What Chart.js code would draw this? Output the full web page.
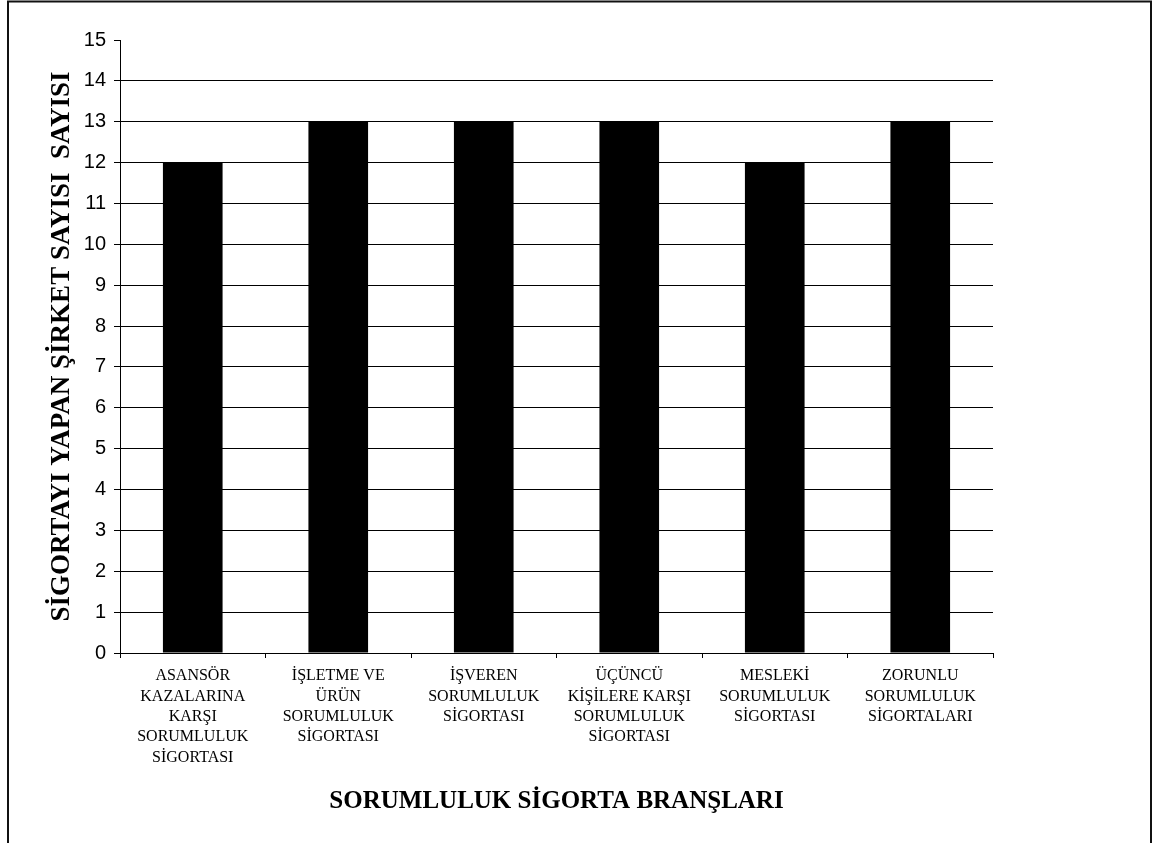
<!DOCTYPE html>
<html>
<head>
<meta charset="utf-8">
<script src="https://cdn.jsdelivr.net/npm/chart.js@4/dist/chart.umd.min.js"></script>
<style>
  html, body { margin: 0; padding: 0; background: #fff; }
  #wrap { width: 1155px; height: 843px; }
</style>
</head>
<body>
<div id="wrap"><canvas id="chart" width="1155" height="843"></canvas></div>
<script>
const categories = [
  ["ASANSÖR", "KAZALARINA", "KARŞI", "SORUMLULUK", "SİGORTASI"],
  ["İŞLETME VE", "ÜRÜN", "SORUMLULUK", "SİGORTASI"],
  ["İŞVEREN", "SORUMLULUK", "SİGORTASI"],
  ["ÜÇÜNCÜ", "KİŞİLERE KARŞI", "SORUMLULUK", "SİGORTASI"],
  ["MESLEKİ", "SORUMLULUK", "SİGORTASI"],
  ["ZORUNLU", "SORUMLULUK", "SİGORTALARI"]
];
const companyCounts = [12, 13, 13, 13, 12, 13];
const yTitle = "SİGORTAYI YAPAN ŞİRKET SAYISI  SAYISI";
const xTitle = "SORUMLULUK SİGORTA BRANŞLARI";

// outer frame like the original sheet border (bottom edge is cut off)
const framePlugin = {
  id: "frame",
  afterDraw(chart) {
    const ctx = chart.ctx;
    ctx.save();
    ctx.strokeStyle = "#111";
    ctx.lineWidth = 2;
    ctx.beginPath();
    ctx.moveTo(8, 850);
    ctx.lineTo(8, 1.5);
    ctx.lineTo(1151, 1.5);
    ctx.lineTo(1151, 850);
    ctx.stroke();
    ctx.restore();
  }
};

const ctx = document.getElementById("chart").getContext("2d");
new Chart(ctx, {
  type: "bar",
  data: {
    labels: categories,
    datasets: [
      {
        data: companyCounts,
        backgroundColor: "#000",
        borderWidth: 0,
        categoryPercentage: 1,
        barPercentage: 0.41
      }
    ]
  },
  options: {
    responsive: false,
    animation: false,
    layout: { padding: { top: 40, right: 162, left: 0, bottom: 0 } },
    plugins: {
      legend: { display: false },
      tooltip: { enabled: false }
    },
    scales: {
      x: {
        afterFit(scale) { scale.height = 190; },
        grid: {
          drawOnChartArea: false,
          drawTicks: true,
          tickLength: 5,
          color: "#000"
        },
        border: { color: "#000", width: 1 },
        ticks: {
          color: "#000",
          padding: 8,
          maxRotation: 0,
          autoSkip: false,
          font: { family: "Liberation Serif", size: 16, lineHeight: 1.27 }
        },
        title: {
          display: true,
          text: xTitle,
          color: "#000",
          padding: { top: 0, bottom: 26 },
          font: { family: "Liberation Serif", size: 25, weight: "bold" }
        }
      },
      y: {
        min: 0,
        max: 15,
        afterFit(scale) { scale.width = 120; },
        grid: {
          color: (c) => (c.tick && c.tick.value === 15 ? "rgba(0,0,0,0)" : "#000"),
          tickColor: "#000",
          tickLength: 6,
          lineWidth: 1
        },
        border: { color: "#000", width: 1 },
        ticks: {
          stepSize: 1,
          color: "#000",
          padding: 8,
          font: { family: "Liberation Sans", size: 20 }
        },
        title: {
          display: true,
          text: yTitle,
          color: "#000",
          padding: { top: 46, bottom: 0 },
          font: { family: "Liberation Serif", size: 27, weight: "bold" }
        }
      }
    }
  },
  plugins: [framePlugin]
});
</script>
</body>
</html>
